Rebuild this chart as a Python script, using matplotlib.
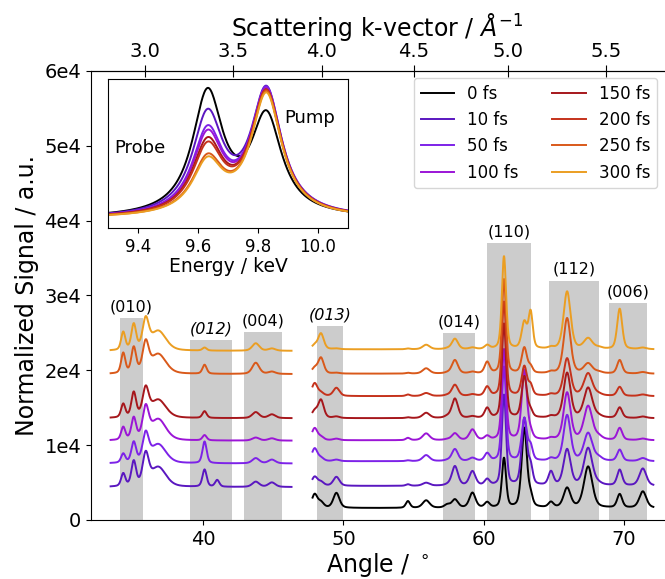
import numpy as np
import matplotlib.pyplot as plt

# delay times and trace colours
delays = ['0 fs', '10 fs', '50 fs', '100 fs', '150 fs', '200 fs', '250 fs', '300 fs']
colors = ['#000000', '#5a17c0', '#7d22e8', '#9b15d6', '#a6171c', '#c5321b', '#d9591a', '#eb9e22']

# baseline of each trace (signal units); None = no data in that angle range
offsets_left = [None, 4400, 7550, 10600, 13600, None, 19500, 22600]
offsets_right = [1600, 4550, 7850, 10650, 13600, 16550, 19550, 22800]

# diffraction peaks, low-angle range (angle deg, width deg, heights in 1e4)
left_centers = [34.3, 35.05, 35.9, 36.8, 40.1, 41.0, 43.75, 44.9]
left_sigmas = [0.15, 0.17, 0.22, 0.55, 0.15, 0.15, 0.25, 0.25]
left_heights = [
    None,
    [0.17, 0.33, 0.40, 0.26, 0.23, 0.09, 0.07, 0.06],
    [0.12, 0.27, 0.36, 0.25, 0.29, 0.00, 0.07, 0.05],
    [0.17, 0.29, 0.40, 0.28, 0.07, 0.00, 0.04, 0.03],
    [0.18, 0.33, 0.36, 0.24, 0.09, 0.00, 0.08, 0.05],
    None,
    [0.27, 0.34, 0.38, 0.26, 0.12, 0.00, 0.15, 0.03],
    [0.24, 0.34, 0.38, 0.26, 0.04, 0.00, 0.10, 0.03],
]

# diffraction peaks, high-angle range
right_centers = [47.95, 48.4, 49.5, 54.6, 55.9, 57.4, 57.95, 59.2, 60.25,
                 61.45, 62.9, 63.35, 64.8, 65.95, 67.45, 68.2, 69.7, 71.35]
right_sigmas = [0.2, 0.2, 0.22, 0.15, 0.25, 0.2, 0.22, 0.22, 0.18,
                0.15, 0.19, 0.15, 0.18, 0.25, 0.3, 0.25, 0.18, 0.25]
right_heights = [
    [0.18, 0.07, 0.20, 0.09, 0.10, 0.04, 0.11, 0.20, 0.07, 0.66, 1.06, 0.13, 0.07, 0.26, 0.55, 0.00, 0.18, 0.22],
    [0.12, 0.05, 0.12, 0.02, 0.04, 0.01, 0.26, 0.19, 0.08, 1.21, 0.89, 0.23, 0.18, 0.48, 0.50, 0.02, 0.21, 0.23],
    [0.17, 0.04, 0.02, 0.01, 0.08, 0.01, 0.16, 0.04, 0.10, 1.26, 0.56, 0.18, 0.03, 0.61, 0.37, 0.04, 0.15, 0.04],
    [0.16, 0.04, 0.02, 0.03, 0.09, 0.01, 0.09, 0.14, 0.05, 1.21, 0.93, 0.08, 0.02, 0.63, 0.45, 0.04, 0.16, 0.02],
    [0.09, 0.24, 0.02, 0.01, 0.07, 0.02, 0.26, 0.02, 0.13, 1.26, 0.55, 0.08, 0.02, 0.60, 0.40, 0.02, 0.14, 0.02],
    [0.17, 0.04, 0.11, 0.02, 0.04, 0.01, 0.15, 0.02, 0.12, 1.26, 0.39, 0.13, 0.02, 0.50, 0.30, 0.02, 0.12, 0.02],
    [0.07, 0.21, 0.01, 0.01, 0.07, 0.01, 0.18, 0.02, 0.15, 1.26, 0.34, 0.08, 0.02, 0.74, 0.13, 0.02, 0.18, 0.02],
    [0.05, 0.21, 0.01, 0.01, 0.06, 0.01, 0.14, 0.02, 0.05, 1.24, 0.35, 0.48, 0.02, 0.77, 0.14, 0.02, 0.54, 0.02],
]

# grey reflection bands
band_lo = [34.08, 39.07, 42.94, 48.15, 57.08, 60.26, 64.68, 68.96]
band_hi = [35.70, 42.05, 45.65, 50.00, 59.39, 63.36, 68.25, 71.62]
band_top = [27000, 24000, 25100, 25900, 25000, 37000, 32000, 29000]
band_labels = ['(010)', '(012)', '(004)', '(013)', '(014)', '(110)', '(112)', '(006)']
band_italic = [False, True, False, True, False, False, False, False]

# inset XAS: peak tops of probe / pump lines (fraction of inset height)
probe_top = [0.94, 0.80, 0.69, 0.66, 0.61, 0.58, 0.50, 0.48]
pump_top = [0.79, 0.955, 0.95, 0.94, 0.93, 0.93, 0.92, 0.91]
probe_e, pump_e, gamma, inset_base = 9.632, 9.828, 0.062, 0.065

k_ticks = [3.0, 3.5, 4.0, 4.5, 5.0, 5.5]
y_ticks = [0, 10000, 20000, 30000, 40000, 50000, 60000]
y_ticklabels = ['0', '1e4', '2e4', '3e4', '4e4', '5e4', '6e4']
wavelength = 1.2895  # Angstrom


def trace(x, centers, sigmas, heights, offset, eta=0.4):
    # pseudo-Voigt peaks on a flat baseline
    y = np.full_like(x, float(offset))
    for c, s, h in zip(centers, sigmas, heights):
        g = np.exp(-0.5 * ((x - c) / s) ** 2)
        lor = 1 / (1 + ((x - c) / (1.177 * s)) ** 2)
        y += h * 1e4 * ((1 - eta) * g + eta * lor)
    return y


def ang2k(a):
    return 4 * np.pi * np.sin(np.deg2rad(a) / 2) / wavelength


def k2ang(k):
    return 2 * np.rad2deg(np.arcsin(np.clip(k * wavelength / (4 * np.pi), -1, 1)))


fig = plt.figure(figsize=(6.65, 5.79), dpi=100)
ax = fig.add_axes([0.1368, 0.1019, 0.8617, 0.7755])

x_left = np.linspace(33.4, 46.3, 600)
x_right = np.linspace(47.8, 72.1, 1200)

ax.bar([(lo + hi) / 2 for lo, hi in zip(band_lo, band_hi)], band_top,
       width=[hi - lo for lo, hi in zip(band_lo, band_hi)],
       color='#cccccc', zorder=0)
for lo, hi, top, lab, it in zip(band_lo, band_hi, band_top, band_labels, band_italic):
    ax.text((lo + hi) / 2, top + 500, lab, ha='center', va='bottom', fontsize=11.5,
            style='italic' if it else 'normal')

for i in range(len(delays)):
    if offsets_left[i] is not None:
        ax.plot(x_left, trace(x_left, left_centers, left_sigmas, left_heights[i], offsets_left[i]),
                color=colors[i], lw=1.4, zorder=2)
    ax.plot(x_right, trace(x_right, right_centers, right_sigmas, right_heights[i], offsets_right[i]),
            color=colors[i], lw=1.4, zorder=2, label=delays[i])

ax.set_xlim(32.0, 72.86)
ax.set_ylim(0, 60000)
ax.set_xticks([40, 50, 60, 70])
ax.set_yticks(y_ticks)
ax.set_yticklabels(y_ticklabels)
ax.tick_params(labelsize=14)
ax.spines['right'].set_visible(False)
ax.set_xlabel(r'Angle / $^\circ$', fontsize=17, labelpad=2)
ax.set_ylabel('Normalized Signal / a.u.', fontsize=17)

sec = ax.secondary_xaxis('top', functions=(ang2k, k2ang))
sec.set_xticks(k_ticks)
sec.set_xticklabels(['%.1f' % k for k in k_ticks])
sec.tick_params(direction='inout', length=8, labelsize=14)
sec.set_xlabel(r'Scattering k-vector / $\AA^{-1}$', fontsize=17)

ax.legend(loc='upper right', bbox_to_anchor=(0.988, 0.8653), bbox_transform=fig.transFigure,
          borderaxespad=0, ncol=2, fontsize=12, labelspacing=0.5)

# inset XAS spectra
ins = fig.add_axes([0.1624, 0.6062, 0.3609, 0.2574])
energy = np.linspace(9.3, 10.1, 500)
cross = 1 / (1 + ((pump_e - probe_e) / gamma) ** 2)
for i in range(len(delays)):
    a_pr = ((probe_top[i] - inset_base) - cross * (pump_top[i] - inset_base)) / (1 - cross ** 2)
    a_pu = ((pump_top[i] - inset_base) - cross * (probe_top[i] - inset_base)) / (1 - cross ** 2)
    spec = (inset_base + a_pr / (1 + ((energy - probe_e) / gamma) ** 2)
            + a_pu / (1 + ((energy - pump_e) / gamma) ** 2))
    ins.plot(energy, spec, color=colors[i], lw=1.4)
ins.set_xlim(9.3, 10.1)
ins.set_ylim(0, 1)
ins.set_xticks([9.4, 9.6, 9.8, 10.0])
ins.set_yticks([])
ins.tick_params(labelsize=12)
ins.set_xlabel('Energy / keV', fontsize=13.5, labelpad=1)
ins.text(9.32, 0.537, 'Probe', fontsize=13, va='center')
ins.text(9.972, 0.738, 'Pump', fontsize=13, va='center', ha='center')

fig.savefig('out.png', dpi=100)
